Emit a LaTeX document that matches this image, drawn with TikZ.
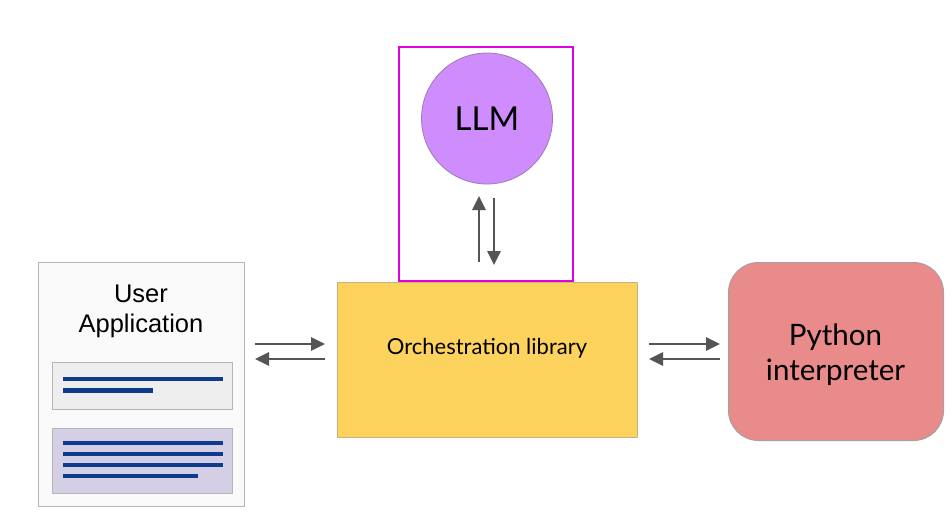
\documentclass[tikz,border=0pt]{standalone}
\usepackage{fontspec}
\setmainfont{Lato}
\newfontfamily\arialfont{Liberation Sans}
\usetikzlibrary{arrows.meta}
\definecolor{llmfill}{HTML}{CF8CFD}
\definecolor{llmedge}{HTML}{A07AB8}
\definecolor{orchfill}{HTML}{FDD35D}
\definecolor{orchedge}{HTML}{C9B27E}
\definecolor{pyfill}{HTML}{E88B8A}
\definecolor{pyedge}{HTML}{A8A0A0}
\definecolor{frame}{HTML}{E000E0}
\definecolor{arrowgray}{HTML}{555555}
\definecolor{textblue}{HTML}{0F3B8C}
\definecolor{panelgray}{HTML}{EEEEEE}
\definecolor{panellav}{HTML}{D5CFE6}
\definecolor{paneledge}{HTML}{B5B5B5}
\tikzset{
  flow/.style={draw=arrowgray, line width=2.7pt,
    -{Triangle[length=14pt,width=13pt]}},
  textline/.style={draw=textblue, line width=4.6pt},
  panel/.style={draw=paneledge, line width=1pt},
}
\begin{document}
\begin{tikzpicture}[x=1pt,y=-1pt]
  \useasboundingbox[fill=white] (0,0) rectangle (952,514);

  % user application window
  \draw[draw=paneledge, fill=white!98!black, line width=1pt] (38,262) rectangle (244,506);
  \node[font=\arialfont\fontsize{25.5}{30}\selectfont, align=center, anchor=base]
    (user) at (141,332) {User\\Application};
  \draw[panel, fill=panelgray] (52,362) rectangle (232,409);
  \draw[textline] (63,379) -- (223,379);
  \draw[textline] (63,390.5) -- (153,390.5);
  \draw[panel, fill=panellav] (52,428) rectangle (232,493);
  \draw[textline] (63,443) -- (223,443);
  \draw[textline] (63,454) -- (223,454);
  \draw[textline] (63,465) -- (223,465);
  \draw[textline] (63,476) -- (198,476);

  % LLM frame and circle
  \draw[draw=frame, line width=2.4pt] (399,47) rectangle (573,281);
  \node[circle, draw=llmedge, fill=llmfill, line width=0.8pt, minimum size=131pt,
    inner sep=0pt, font=\fontsize{33}{36}\selectfont] (llm) at (487,118.5) {LLM};

  % orchestration library
  \node[draw=orchedge, fill=orchfill, line width=1.2pt, minimum width=300pt,
    minimum height=155pt, inner sep=0pt, anchor=north west] (orch) at (337,282) {};
  \node[font=\fontsize{22}{26}\selectfont] (orchlabel) at (487,348) {Orchestration library};

  % python interpreter
  \node[draw=pyedge, fill=pyfill, line width=1pt, rounded corners=30pt,
    minimum width=215pt, minimum height=178pt, inner sep=0pt, anchor=north west]
    (py) at (728,262) {};
  \node[align=center, font=\fontsize{29.5}{35}\selectfont] (pylabel) at (835.5,355)
    {Python\\interpreter};

  % arrow end points
  \coordinate (ua) at (255,344);  \coordinate (oa) at (325,344);
  \coordinate (ub) at (255,359);  \coordinate (ob) at (325,359);
  \coordinate (oc) at (649,344);  \coordinate (pc) at (720,344);
  \coordinate (od) at (649,359);  \coordinate (pd) at (720,359);
  \coordinate (oe) at (479,262);  \coordinate (le) at (479,196);
  \coordinate (lf) at (494,198);  \coordinate (of) at (494,265);

  % connectors
  \draw[flow] (ua) -- (oa);
  \draw[flow] (ob) -- (ub);
  \draw[flow] (oc) -- (pc);
  \draw[flow] (pd) -- (od);
  \draw[flow] (oe) -- (le);
  \draw[flow] (lf) -- (of);
\end{tikzpicture}
\end{document}
